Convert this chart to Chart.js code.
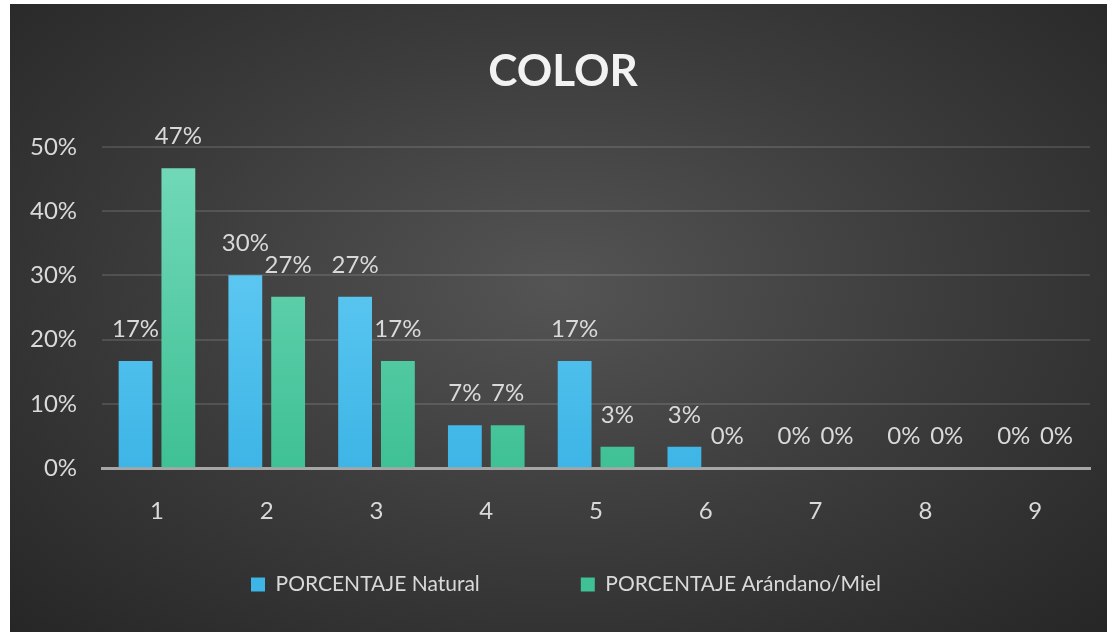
<!DOCTYPE html>
<html>
<head>
<meta charset="utf-8">
<script src="https://cdn.jsdelivr.net/npm/chart.js@4.4.1/dist/chart.umd.min.js"></script>
<style>
  html, body { margin: 0; padding: 0; background: #ffffff; }
  #panel {
    position: absolute; left: 10px; top: 4px; width: 1097px; height: 628px;
    background: radial-gradient(ellipse at 50% 45%, #545454 0%, #3c3c3c 50%, #262626 100%);
  }
</style>
</head>
<body>
<div id="panel"><canvas id="chart-color"></canvas></div>
<script>
const categories = ['1', '2', '3', '4', '5', '6', '7', '8', '9'];
const naturalValues = [16.67, 30, 26.67, 6.67, 16.67, 3.33, 0, 0, 0];
const mielValues = [46.67, 26.67, 16.67, 6.67, 3.33, 0, 0, 0, 0];
const seriesNames = ['PORCENTAJE Natural', 'PORCENTAJE Arándano/Miel'];

const textColor = '#d9d9d9';
const fontFamily = 'Lato, "Open Sans", sans-serif';
const legendGap = 101;   // horizontal space between legend entries
const legendTrim = 74;   // height removed again from the legend box

function barGradient(ctx, top, bottom){
    const chart = ctx.chart;
    const area = chart.chartArea;
    if(!area){
        return top;
    }
    const g = chart.ctx.createLinearGradient(0, area.top, 0, area.bottom);
    g.addColorStop(0, top);
    g.addColorStop(1, bottom);
    return g;
}

/*
 * Percentage labels above every bar
 */
const valueLabels = {
    id: 'valueLabels',
    afterDatasetsDraw(chart){
        const ctx = chart.ctx;
        ctx.save();
        ctx.font = '24px ' + fontFamily;
        ctx.fillStyle = textColor;
        ctx.textAlign = 'center';
        ctx.textBaseline = 'alphabetic';
        chart.data.datasets.forEach((ds, i) => {
            const meta = chart.getDatasetMeta(i);
            meta.data.forEach((bar, j) => {
                ctx.fillText(Math.round(ds.data[j]) + '%', bar.x, bar.y - 24);
            });
        });
        ctx.restore();
    }
};

/*
 * The legend padding is large to space the two entries apart,
 * so take that height back from the layout and stretch the box upwards
 */
const legendPlace = {
    id: 'legendPlace',
    beforeLayout(chart){
        const lg = chart.legend;
        if(lg && !lg._trimmed){
            const fit = lg.fit;
            lg.fit = function(){
                fit.call(this);
                this.height -= legendTrim;
            };
            lg._trimmed = true;
        }
    },
    afterLayout(chart){
        const lg = chart.legend;
        lg.top -= legendTrim;
        lg.height += legendTrim;
        lg.left += 16;
        lg.right += 16;
        chart.titleBlock.left += 13;
        chart.titleBlock.right += 13;
    }
};

const canvas = document.getElementById('chart-color');

new Chart(canvas, {
    type: 'bar',
    data: {
        labels: categories,
        datasets: [{
            label: seriesNames[0],
            data: naturalValues,
            backgroundColor: ctx => barGradient(ctx, '#6fd2f8', '#3db5e6'),
            borderWidth: 0,
            categoryPercentage: 0.78,
            barPercentage: 0.79
        }, {
            label: seriesNames[1],
            data: mielValues,
            backgroundColor: ctx => barGradient(ctx, '#74dab9', '#3fc095'),
            borderWidth: 0,
            categoryPercentage: 0.78,
            barPercentage: 0.79
        }]
    },
    options: {
        responsive: true,
        maintainAspectRatio: false,
        animation: false,
        layout: {
            padding: { left: 0, right: 17, top: 0, bottom: 27 }
        },
        plugins: {
            title: {
                display: true,
                text: 'COLOR',
                color: '#f2f2f2',
                font: { family: fontFamily, size: 44, weight: 'bold' },
                padding: { top: 41, bottom: 49 }
            },
            legend: {
                position: 'bottom',
                labels: {
                    color: textColor,
                    font: { family: fontFamily, size: 21 },
                    boxWidth: 14,
                    boxHeight: 14,
                    padding: legendGap
                }
            },
            tooltip: { enabled: false }
        },
        scales: {
            x: {
                grid: { display: false },
                border: { display: true, color: '#a6a6a6', width: 3 },
                ticks: {
                    color: textColor,
                    font: { family: fontFamily, size: 24 },
                    padding: 21
                }
            },
            y: {
                min: 0,
                max: 50,
                grid: { color: 'rgba(255,255,255,0.12)', lineWidth: 2, drawTicks: false },
                border: { display: false },
                ticks: {
                    stepSize: 10,
                    color: textColor,
                    font: { family: fontFamily, size: 24 },
                    padding: 25,
                    callback: v => v + '%'
                },
                afterFit: scale => { scale.width -= 5; }
            }
        }
    },
    plugins: [valueLabels, legendPlace]
});
</script>
</body>
</html>
